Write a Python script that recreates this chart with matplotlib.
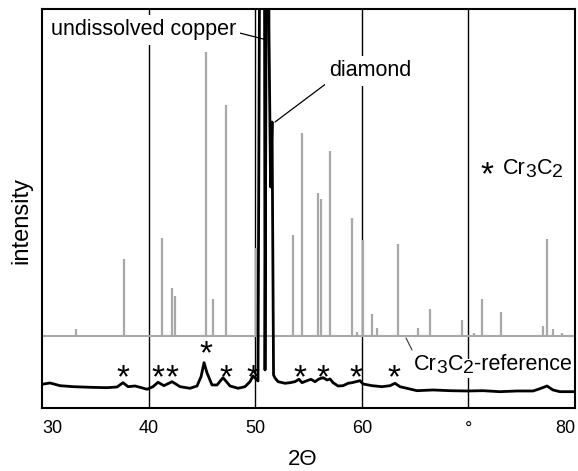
import matplotlib
matplotlib.use("Agg")
import matplotlib.pyplot as plt
from matplotlib.transforms import offset_copy

plt.rcParams['font.family'] = ['Liberation Sans', 'DejaVu Sans']

# Cr3C2 reference pattern: line positions (2theta) and heights above its own baseline
ref_base = 72
ref_pos = [33.19, 37.69, 41.26, 42.20, 42.48, 45.38, 46.04, 47.26, 50.08, 53.55,
           54.39, 55.89, 56.17, 57.02, 59.08, 59.55, 60.11, 60.96, 61.43, 63.40,
           65.27, 66.40, 69.40, 70.53, 71.28, 73.06, 77.00, 77.37, 77.94, 78.78]
ref_height = [7, 77, 98, 48, 40, 284, 37, 231, 88, 101,
              203, 143, 137, 185, 118, 4, 96, 22, 8, 92,
              8, 27, 16, 3, 37, 24, 10, 97, 7, 3]

meas_2theta = [30.00, 30.75, 31.69, 32.91, 34.50, 36.10, 37.04, 37.60, 38.07, 38.72,
               39.19, 39.85, 40.41, 40.88, 41.44, 42.20, 42.95, 43.88, 44.54, 44.92,
               45.20, 45.48, 45.95, 46.42, 46.98, 47.64, 48.39, 49.04, 49.51, 49.79,
               50.17, 50.26, 50.54, 50.83, 50.92, 51.15, 51.29, 51.44, 51.58, 51.72,
               51.86, 52.14, 52.80, 53.26, 53.73, 54.11, 54.39, 54.86, 55.23, 55.61,
               55.98, 56.36, 56.74, 57.02, 57.30, 57.77, 58.24, 58.71, 59.08, 59.46,
               59.83, 60.11, 60.96, 61.89, 62.65, 63.11, 63.58, 65.18, 66.68, 68.27,
               69.87, 71.37, 72.96, 74.56, 76.06, 76.72, 77.37, 77.94, 78.59, 80.00]
meas_int = [23.7, 25.0, 22.3, 21.3, 20.7, 20.3, 21.0, 25.3, 21.3, 22.0,
            20.7, 18.7, 21.3, 25.7, 22.3, 26.3, 21.3, 19.7, 22.0, 31.3,
            45.3, 35.0, 23.0, 23.0, 30.3, 22.0, 19.7, 21.3, 26.3, 32.0,
            28.0, 27.0, 800, 800, 38.0, 800, 378, 221, 286, 33.0,
            30.0, 26.3, 24.7, 25.3, 26.3, 28.7, 25.3, 27.3, 28.7, 26.3,
            29.0, 30.3, 28.0, 29.0, 25.3, 22.0, 22.3, 24.7, 25.3, 26.3,
            27.3, 24.0, 22.3, 21.3, 22.3, 24.7, 21.3, 17.3, 18.0, 17.3,
            17.0, 17.3, 16.3, 17.0, 17.0, 19.3, 22.0, 18.0, 16.3, 16.3]

# Cr3C2 peak markers
star_pos = [37.60, 40.88, 42.20, 45.38, 47.26, 49.79, 54.20, 56.36, 59.46, 63.02]
star_int = [36, 36, 36, 60, 36, 36, 36, 36, 36, 36]

tick_vals = [30, 40, 50, 60, 70, 80]
tick_labels = ['30', '40', '50', '60', '°', '80']

fig = plt.figure(figsize=(5.78, 4.71), dpi=100)
ax = fig.add_axes([0.0727, 0.1338, 0.9221, 0.8471])
ax.set_xlim(30, 80)
ax.set_ylim(0, 399)
ax.set_yticks([])
ax.set_xticks(tick_vals, tick_labels)
ax.tick_params(axis='x', length=0, pad=9, labelsize=13)
lbls = ax.get_xticklabels()
lbls[0].set_ha('left')
lbls[-1].set_ha('right')
for s in ax.spines.values():
    s.set_linewidth(1.5)
for v in tick_vals[1:-1]:
    ax.axvline(v, color='black', lw=1.0, zorder=1)

gray = '#a8a8a8'
ax.axhline(ref_base, color=gray, lw=1.5, zorder=2)
ax.vlines(ref_pos, ref_base, [ref_base + h for h in ref_height], color=gray, lw=1.6, zorder=2)

ax.plot(meas_2theta, meas_int, color='black', lw=2.0, zorder=3)

# asterisk glyph sits high in its box, so shift down a bit
for x, y in zip(star_pos, star_int):
    ax.text(x, y - 7, '*', ha='center', va='center', fontsize=24)


def formula(x, y, parts, size, **kw):
    # draw chemical formula piece by piece, digits lowered
    r = fig.canvas.get_renderer()
    dx = 0.0
    for s, sub in parts:
        tr = offset_copy(ax.transData, fig=fig, x=dx, y=-2.5 if sub else 0, units='points')
        t = ax.text(x, y, s, transform=tr, fontsize=size * 0.9 if sub else size,
                    ha='left', va='center', **kw)
        dx += t.get_window_extent(r).width * 72.0 / fig.dpi


wb = dict(facecolor='white', edgecolor='none', pad=0.5)
formula(64.90, 43, [('Cr', 0), ('3', 1), ('C', 0), ('2', 1), ('-reference', 0)], 15.5, bbox=wb)
ax.annotate('', xy=(64.71, 58), xytext=(64.15, 70),
            arrowprops=dict(arrowstyle='-', color='#333333', lw=0.8, shrinkA=0, shrinkB=0))

ax.text(71.74, 239 - 7, '*', ha='center', va='center', fontsize=24)
formula(73.25, 239, [('Cr', 0), ('3', 1), ('C', 0), ('2', 1)], 15.5)

ax.annotate('undissolved copper', xy=(51.11, 368), xytext=(30.84, 378),
            ha='left', va='center', fontsize=15.5,
            bbox=dict(facecolor='white', edgecolor='none', pad=3),
            arrowprops=dict(arrowstyle='-', color='black', lw=0.9, shrinkA=0, shrinkB=0,
                            relpos=(1, 0.4)))
ax.annotate('diamond', xy=(51.86, 286), xytext=(56.92, 337),
            ha='left', va='center', fontsize=15.5,
            bbox=dict(facecolor='white', edgecolor='none', pad=3),
            arrowprops=dict(arrowstyle='-', color='black', lw=0.9, shrinkA=0, shrinkB=0,
                            relpos=(0, 0)))

ax.set_xlabel('2Θ', fontsize=16)
ax.xaxis.set_label_coords(0.49, -0.103)
ax.set_ylabel('intensity', fontsize=17)
ax.yaxis.set_label_coords(-0.019, 0.471)

fig.savefig('out.png', dpi=100)
